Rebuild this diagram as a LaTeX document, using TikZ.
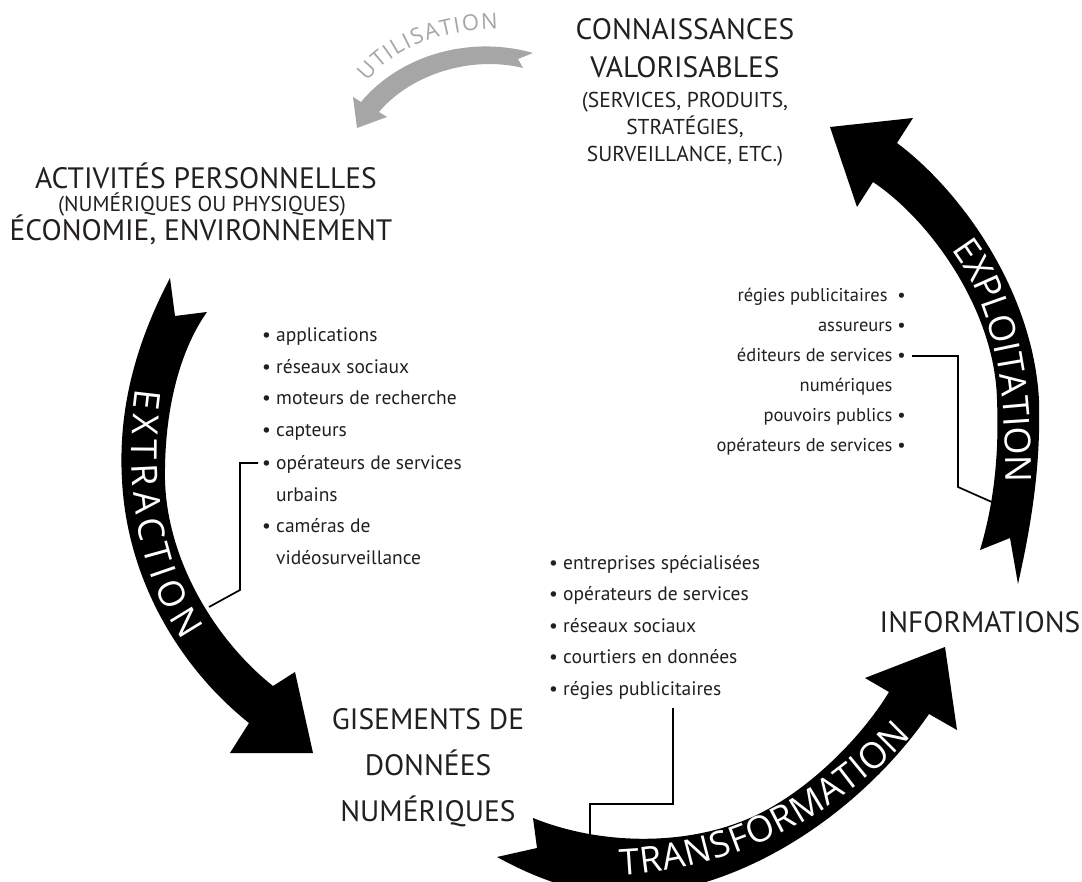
\documentclass[tikz,border=0pt]{standalone}
\usepackage{fontspec}
\setmainfont{PT Sans}
\newfontfamily\bandfont{Open Sans}
\usetikzlibrary{decorations.text}
\definecolor{ink}{RGB}{35,31,32}
\definecolor{greyarrow}{RGB}{166,166,166}
\newcommand\bul{•}
\begin{document}
\begin{tikzpicture}[x=1pt,y=-1pt,
  title/.style={font=\fontsize{29.5}{30}\selectfont, text=ink, inner sep=0pt, anchor=base},
  sub/.style={font=\fontsize{21.5}{22}\selectfont, text=ink, inner sep=0pt, anchor=base},
  item/.style={font=\fontsize{19.5}{22}\selectfont, text=ink, inner sep=0pt, anchor=base west},
  ritem/.style={font=\fontsize{18.5}{22}\selectfont, text=ink, inner sep=0pt, anchor=base east},
  band/.style={fill=black},
  link/.style={draw=black, line width=1.7pt},
  bandtext/.style={decorate, decoration={text along path, text align={fit to path}, raise=-13pt,
     text={|\bandfont\fontsize{36}{36}\selectfont\color{white}|#1}}},
]
\useasboundingbox (0,0) rectangle (1082,882);
\clip (0,0) rectangle (1082,882);

% ---------- arrows ----------
% extraction
\fill[band] (170,278) .. controls (135,345) and (118,410) .. (122,480)
  .. controls (127,580) and (180,668) .. (249,723) -- (230,753) -- (313,753) -- (295,672) -- (273,686)
  .. controls (215,640) and (167,560) .. (165,480)
  .. controls (164,410) and (180,350) .. (207,312) -- (175,316) -- cycle;
% transformation
\fill[band] (533,818) .. controls (600,845) and (680,845) .. (740,822)
  .. controls (800,800) and (860,740) .. (889,692) -- (865,678) -- (945,647) -- (957,730) -- (929,714)
  .. controls (870,800) and (760,885) .. (640,895)
  .. controls (580,898) and (530,875) .. (497,857) -- (537,848) -- cycle;
% exploitation
\fill[band] (1018,584) .. controls (1030,530) and (1041,470) .. (1039,400)
  .. controls (1033,290) and (960,190) .. (897,143) -- (913,118) -- (830,127) -- (857,207) -- (873,182)
  .. controls (930,220) and (995,310) .. (997,400)
  .. controls (999,450) and (995,500) .. (980,550) -- (1010,538) -- cycle;
% utilisation (grey)
\fill[greyarrow] (533,53) .. controls (470,35) and (400,55) .. (361,102) -- (353,97) -- (357,128) -- (387,117) -- (379,112)
  .. controls (410,75) and (470,55) .. (523,68) -- (518,59) -- cycle;

% ---------- band labels ----------
\path[bandtext=EXTRACTION] (149,390) .. controls (138,470) and (146,565) .. (194,634);
\path[bandtext=TRANSFORMATION] (620,862) .. controls (720,858) and (820,813) .. (902,727);
\path[bandtext=EXPLOITATION] (962,242) .. controls (1000,292) and (1019,360) .. (1019,482);
\path[decorate, decoration={text along path, text align={fit to path},
   text={|\bandfont\fontsize{22}{22}\selectfont\color{greyarrow}|UTILISATION}}]
   (367,82) .. controls (395,47) and (440,30) .. (498,29);

% ---------- titles ----------
\node[title] (conn1) at (685,40) {CONNAISSANCES};
\node[title] (conn2) at (685,78) {VALORISABLES};
\node[sub] (conn3) at (685,108) {(SERVICES, PRODUITS,};
\node[sub] (conn4) at (685,135) {STRATÉGIES,};
\node[sub] (conn5) at (685,162) {SURVEILLANCE, ETC.)};

\node[title] (act1) at (206,189) {ACTIVITÉS PERSONNELLES};
\node[sub] (act2) at (202,212) {(NUMÉRIQUES OU PHYSIQUES)};
\node[title] (act3) at (201,241) {ÉCONOMIE, ENVIRONNEMENT};

\node[title] (gis1) at (428,729) {GISEMENTS DE};
\node[title] (gis2) at (428,775) {DONNÉES};
\node[title] (gis3) at (428,821) {NUMÉRIQUES};

\node[title] (info) at (980,632) {INFORMATIONS};

% ---------- extraction list ----------
\node[item] (e1) at (262,342) {\bul\ applications};
\node[item] (e2) at (262,374) {\bul\ réseaux sociaux};
\node[item] (e3) at (262,405) {\bul\ moteurs de recherche};
\node[item] (e4) at (262,437) {\bul\ capteurs};
\node[item] (e5) at (262,469) {\bul\ opérateurs de services};
\node[item] (e6) at (262,501) {\hphantom{\bul\ }urbains};
\node[item] (e7) at (262,532) {\bul\ caméras de};
\node[item] (e8) at (262,564) {\hphantom{\bul\ }vidéosurveillance};

% ---------- transformation list ----------
\node[item] (t1) at (549,569) {\bul\ entreprises spécialisées};
\node[item] (t2) at (549,600) {\bul\ opérateurs de services};
\node[item] (t3) at (549,632) {\bul\ réseaux sociaux};
\node[item] (t4) at (549,663) {\bul\ courtiers en données};
\node[item] (t5) at (549,695) {\bul\ régies publicitaires};

% ---------- exploitation list ----------
\node[ritem] (x1) at (906,302) {régies publicitaires\ \ \bul};
\node[ritem] (x2) at (906,332) {assureurs \bul};
\node[ritem] (x3) at (906,362) {éditeurs de services \bul};
\node[ritem] (x4) at (906,392) {numériques\hphantom{ \bul}};
\node[ritem] (x5) at (906,422) {pouvoirs publics \bul};
\node[ritem] (x6) at (906,452) {opérateurs de services \bul};

% ---------- connectors ----------
\coordinate (ea) at (258,463);
\coordinate (eb) at (209,607);
\draw[link] (ea) -- (240,463) -- (240,590) -- (eb);
\coordinate (ta) at (673,708);
\coordinate (tb) at (590,838);
\draw[link] (ta) -- (673,804) -- (590,804) -- (tb);
\coordinate (xa) at (912,356);
\coordinate (xb) at (1003,507);
\draw[link] (xa) -- (958,356) -- (958,487) -- (xb);
\end{tikzpicture}
\end{document}
